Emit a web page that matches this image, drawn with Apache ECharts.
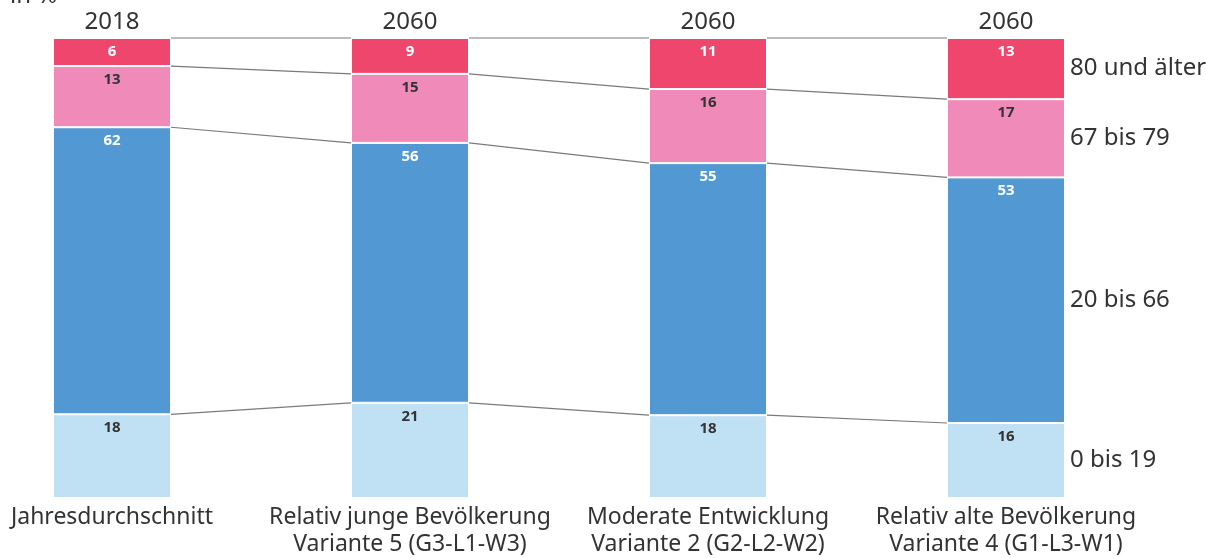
<!DOCTYPE html>
<html>
<head>
<meta charset="utf-8">
<script src="https://cdn.jsdelivr.net/npm/echarts@6/dist/echarts.min.js"></script>
<style>
  html, body { margin: 0; padding: 0; background: #fff; }
  #chart { width: 1206px; height: 558px; }
</style>
</head>
<body>
<div id="chart"></div>
<script>
// Kategorien und Jahre
const categories = [
  'Jahresdurchschnitt',
  'Relativ junge Bevölkerung\nVariante 5 (G3-L1-W3)',
  'Moderate Entwicklung\nVariante 2 (G2-L2-W2)',
  'Relativ alte Bevölkerung\nVariante 4 (G1-L3-W1)'
];
const years = ['2018', '2060', '2060', '2060'];

// Anteile in % (aus der Balkenhöhe gelesen)
const young = [18.2, 20.7, 18.0, 16.3];
const working = [62.4, 56.5, 54.8, 53.4];
const old = [13.3, 15.0, 16.1, 17.0];
const oldest = [6.1, 7.8, 11.1, 13.3];

// gedruckte Werte
const youngLbl = [18, 21, 18, 16];
const workingLbl = [62, 56, 55, 53];
const oldLbl = [13, 15, 16, 17];
const oldestLbl = [6, 9, 11, 13];

const groupNames = ['0 bis 19', '20 bis 66', '67 bis 79', '80 und älter'];
const colors = ['#c0e1f4', '#5299d3', '#f08ab8', '#ef466e'];
const labelColors = ['#333333', '#ffffff', '#333333', '#ffffff'];

const stacks = [young, working, old, oldest];
const labels = [youngLbl, workingLbl, oldLbl, oldestLbl];

const BAR_W = 118;
const FONT = '"Noto Sans", sans-serif';

const chart = echarts.init(document.getElementById('chart'));

// kumulierte Grenzen eines Balkens (von unten)
function bounds(i) {
  const out = [];
  let acc = 0;
  stacks.forEach(s => { acc += s[i]; out.push(acc); });
  return out;
}

const barSeries = stacks.map((s, k) => ({
  name: groupNames[k],
  type: 'bar',
  stack: 'total',
  barWidth: BAR_W,
  clip: false,
  z: 3,
  data: s,
  itemStyle: { color: colors[k], borderColor: '#ffffff', borderWidth: 1 },
  label: {
    show: true,
    position: 'insideTop',
    distance: 6,
    color: labelColors[k],
    fontFamily: FONT,
    fontSize: 15,
    fontWeight: 'bold',
    formatter: p => String(labels[k][p.dataIndex])
  }
}));

// Verbindungslinien zwischen den Balken
const connectorSeries = {
  type: 'custom',
  z: 1,
  clip: false,
  data: [[0], [1], [2]],
  renderItem: (params, api) => {
    const i = api.value(0);
    const a = bounds(i);
    const b = bounds(i + 1);
    const children = [];
    for (let k = 0; k < 4; k++) {
      const p1 = api.coord([i, a[k]]);
      const p2 = api.coord([i + 1, b[k]]);
      children.push({
        type: 'line',
        shape: { x1: p1[0] + BAR_W / 2, y1: p1[1], x2: p2[0] - BAR_W / 2, y2: p2[1] },
        style: { stroke: '#7a7a7a', lineWidth: 1.2 }
      });
    }
    return { type: 'group', children };
  }
};

// Altersgruppen rechts vom letzten Balken
const sideLabelSeries = {
  type: 'custom',
  z: 4,
  clip: false,
  data: [[3]],
  renderItem: (params, api) => {
    const i = api.value(0);
    const children = [];
    let acc = 0;
    stacks.forEach((s, k) => {
      const mid = acc + s[i] / 2;
      acc += s[i];
      const p = api.coord([i, mid]);
      children.push({
        type: 'text',
        x: p[0] + BAR_W / 2 + 5,
        y: p[1],
        style: {
          text: groupNames[k],
          fill: '#333333',
          font: '24px ' + FONT,
          textAlign: 'left',
          textVerticalAlign: 'middle'
        }
      });
    });
    return { type: 'group', children };
  }
};

chart.setOption({
  animation: false,
  graphic: [{
    type: 'text',
    left: 10,
    top: -16,
    style: { text: 'in %', fill: '#333333', font: '24px ' + FONT }
  }],
  grid: { left: 112, right: 200, top: 38, bottom: 60 },
  xAxis: [
    {
      type: 'category',
      data: categories,
      boundaryGap: false,
      axisLine: { show: false },
      axisTick: { show: false },
      axisLabel: {
        margin: 6,
        color: '#333333',
        fontFamily: FONT,
        fontSize: 23,
        lineHeight: 27,
        interval: 0
      }
    },
    {
      type: 'category',
      position: 'top',
      data: years,
      boundaryGap: false,
      axisLine: { show: false },
      axisTick: { show: false },
      axisLabel: {
        margin: 2,
        color: '#333333',
        fontFamily: FONT,
        fontSize: 24,
        lineHeight: 28,
        interval: 0
      }
    }
  ],
  yAxis: { type: 'value', min: 0, max: 100, show: false },
  series: [...barSeries, connectorSeries, sideLabelSeries]
});
</script>
</body>
</html>
